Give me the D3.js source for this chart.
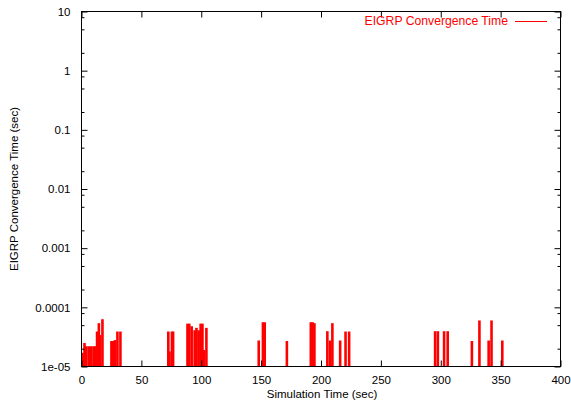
<!DOCTYPE html>
<html><head><meta charset="utf-8">
<script src="https://cdn.jsdelivr.net/npm/d3@7"></script>
<style>
body{margin:0;background:#fff}
text{font-family:"Liberation Sans",Arial,Helvetica,sans-serif;font-size:11.5px}
</style>
</head><body>
<svg id="c" width="571" height="402"></svg>
<script>
// Data: simulation time (sec) and EIGRP convergence time (sec)
const times = [1.5, 2.5, 4, 6, 8, 10, 11.5, 13, 14.5, 15.5, 17.5, 25, 26.5, 28, 30, 32.5,
  72.5, 73.5, 75.5, 76.5,
  88.5, 90, 92, 94.5, 96, 97.8, 99.5, 101, 102.3, 104.3,
  148, 151.5, 153, 171.5,
  191.5, 193, 194.5,
  205.3, 207.5, 209.5, 216, 220.5, 223.5,
  295.3, 297.6, 302.8, 305.8, 326, 332.3, 340, 342.4, 351.4];
const values = [1.7e-5, 2.5e-5, 2.2e-5, 2.2e-5, 2.2e-5, 2.2e-5, 2.2e-5, 3.9e-5, 5.4e-5, 3.4e-5, 6.3e-5, 2.7e-5, 2.7e-5, 2.8e-5, 3.9e-5, 3.9e-5,
  3.9e-5, 1.8e-5, 3.9e-5, 3.9e-5,
  5.3e-5, 5.3e-5, 4.8e-5, 4.1e-5, 4.5e-5, 4.1e-5, 5.3e-5, 5.3e-5, 1.9e-5, 4.5e-5,
  2.75e-5, 5.6e-5, 5.6e-5, 2.7e-5,
  5.6e-5, 5.6e-5, 5.4e-5,
  3.95e-5, 2.75e-5, 5.4e-5, 2.75e-5, 3.9e-5, 3.9e-5,
  3.95e-5, 3.95e-5, 3.95e-5, 3.95e-5, 2.7e-5, 6e-5, 2.75e-5, 6e-5, 2.75e-5];
const xTicks = [0, 50, 100, 150, 200, 250, 300, 350, 400];
const yTicks = [1e-5, 1e-4, 1e-3, 1e-2, 1e-1, 1, 10];
const yTickLabels = ["1e-05", "0.0001", "0.001", "0.01", "0.1", "1", "10"];
const minorMult = [2, 5, 8];
const seriesName = "EIGRP Convergence Time";
const xTitle = "Simulation Time (sec)";
const yTitle = "EIGRP Convergence Time (sec)";

const L = 81.5, R = 560.5, T = 11.5, B = 366.5;
const svg = d3.select("#c");
const x = d3.scaleLinear().domain([0, 400]).range([L, R]);
const y = d3.scaleLog().domain([1e-5, 10]).range([B, T]);

// impulses
svg.append("g").selectAll("line").data(times.map((t, i) => ({t, v: values[i]})))
  .join("line")
  .attr("x1", d => x(d.t)).attr("x2", d => x(d.t))
  .attr("y1", y(1e-5)).attr("y2", d => y(d.v))
  .attr("stroke", "#ff0000").attr("stroke-width", 2.6);

const minors = [];
yTicks.slice(0, -1).forEach(d => minorMult.forEach(m => minors.push(d * m)));

// x ticks bottom & top
const gxb = svg.append("g").attr("transform", `translate(0,${B})`)
  .call(d3.axisBottom(x).tickValues(xTicks).tickSizeInner(-6).tickSizeOuter(0).tickPadding(9).tickFormat(d3.format("d")));
const gxt = svg.append("g").attr("transform", `translate(0,${T})`)
  .call(d3.axisTop(x).tickValues(xTicks).tickSizeInner(-6).tickSizeOuter(0).tickFormat(""));
// y ticks left & right
const gyl = svg.append("g").attr("transform", `translate(${L},0)`)
  .call(d3.axisLeft(y).tickValues(yTicks).tickSizeInner(-6).tickSizeOuter(0).tickPadding(11).tickFormat((d, i) => yTickLabels[i]));
const gyr = svg.append("g").attr("transform", `translate(${R},0)`)
  .call(d3.axisRight(y).tickValues(yTicks).tickSizeInner(-6).tickSizeOuter(0).tickFormat(""));
const gylm = svg.append("g").attr("transform", `translate(${L},0)`)
  .call(d3.axisLeft(y).tickValues(minors).tickSizeInner(-3).tickSizeOuter(0).tickFormat(""));
const gyrm = svg.append("g").attr("transform", `translate(${R},0)`)
  .call(d3.axisRight(y).tickValues(minors).tickSizeInner(-3).tickSizeOuter(0).tickFormat(""));
[gxb, gxt, gyl, gyr, gylm, gyrm].forEach(g => {
  g.select(".domain").remove();
  g.selectAll("text").attr("font-family", null).attr("font-size", null).attr("fill", "#000");
  g.selectAll("line").attr("stroke", "#000");
});
// border
svg.append("rect").attr("x", L).attr("y", T).attr("width", R - L).attr("height", B - T)
  .attr("fill", "none").attr("stroke", "#000").attr("stroke-width", 1);

// titles
svg.append("text").attr("x", (L + R) / 2 + 1).attr("y", 398).attr("text-anchor", "middle").text(xTitle);
svg.append("text").attr("transform", `translate(18,${(T + B) / 2}) rotate(-90)`).attr("text-anchor", "middle").text(yTitle);

// legend
svg.append("text").attr("x", 508).attr("y", 25).attr("text-anchor", "end").attr("fill", "#ff0000")
  .style("font-size", "12.2px").text(seriesName);
svg.append("line").attr("x1", 515).attr("x2", 547).attr("y1", 21.5).attr("y2", 21.5).attr("stroke", "#ff0000").attr("stroke-width", 1);
</script>
</body></html>
